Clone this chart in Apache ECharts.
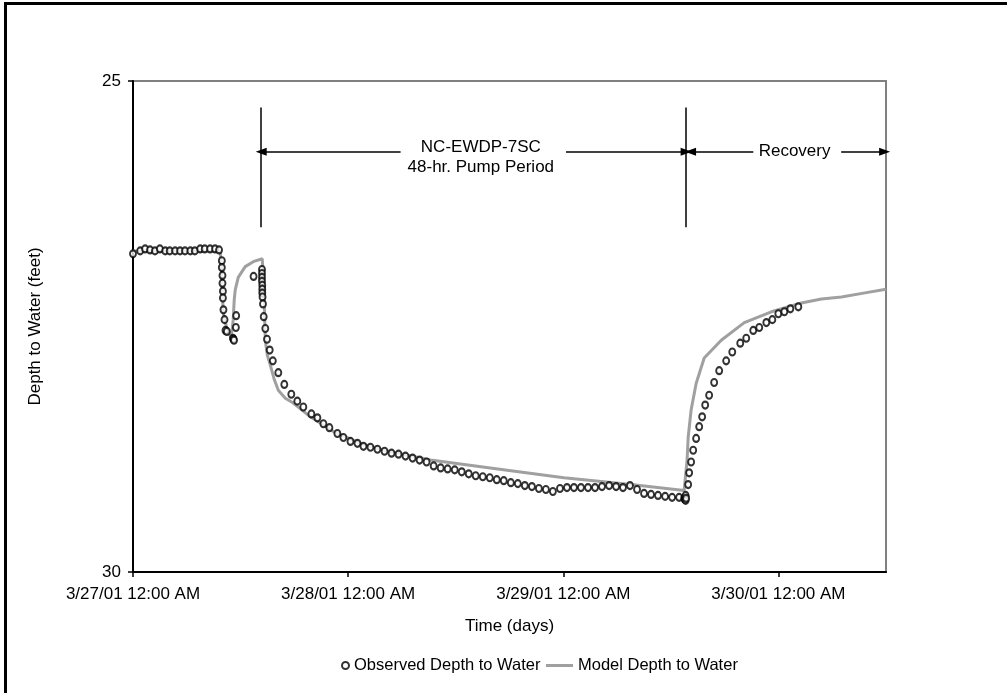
<!DOCTYPE html>
<html>
<head>
<meta charset="utf-8">
<title>NC-EWDP-7SC Depth to Water</title>
<script src="https://cdn.jsdelivr.net/npm/echarts@6/dist/echarts.min.js"></script>
<style>
  html, body { margin: 0; padding: 0; background: #fff; }
  #chart { width: 1007px; height: 693px; }
</style>
</head>
<body>
<div id="chart"></div>
<script>
// Time is measured in hours since 3/27/01 12:00 AM.
const xTickHours = [0, 24, 48, 72];
const xTickLabels = ['3/27/01 12:00 AM', '3/28/01 12:00 AM', '3/29/01 12:00 AM', '3/30/01 12:00 AM'];
const yTicks = [25, 30];

// Observed depth to water (feet)
const observedHours = [
  0, 0.8, 1.35, 1.9, 2.45, 3.0, 3.6, 4.1, 4.7, 5.25, 5.8, 6.4, 6.9, 7.5, 8.0, 8.6, 9.15, 9.6,
  9.91, 9.91, 9.98, 9.98, 10.03, 10.03, 10.09, 10.21, 10.32, 10.47, 11.15, 11.21, 11.27, 11.48, 11.51,
  13.45, 14.39, 14.39, 14.39, 14.39, 14.42, 14.42, 14.42, 14.45, 14.50, 14.58, 14.76, 14.95, 15.25, 15.60,
  16.21, 16.88, 17.66, 18.33, 19.0, 19.9, 20.57, 21.24, 21.91, 22.80, 23.47, 24.26, 25.04, 25.71, 26.49, 27.27,
  28.06, 28.84, 29.62, 30.40, 31.19, 31.97, 32.75, 33.54, 34.32, 35.10, 35.89, 36.67, 37.45, 38.23, 39.02,
  39.80, 40.58, 41.36, 42.15, 42.93, 43.71, 44.50, 45.28, 46.06, 46.84, 47.63, 48.41, 49.19, 49.97, 50.76,
  51.54, 52.32, 53.11, 53.89, 54.66, 55.44, 56.23, 57.01, 57.79, 58.57, 59.36, 60.14, 60.92, 61.48, 61.55,
  61.60, 61.65, 61.65,
  61.70, 61.93, 62.04, 62.26, 62.49, 62.82, 63.16, 63.49, 63.83, 64.27, 64.83, 65.39, 66.17, 66.85, 67.74,
  68.41, 69.19, 69.86, 70.65, 71.32, 71.99, 72.66, 73.33, 74.22
];
const observedDepth = [
  26.76, 26.73, 26.71, 26.72, 26.73, 26.71, 26.73, 26.73, 26.73, 26.73, 26.73, 26.73, 26.73, 26.71, 26.71, 26.71, 26.71, 26.72,
  26.83, 26.90, 26.98, 27.06, 27.14, 27.21, 27.33, 27.43, 27.54, 27.55, 27.62, 27.63, 27.64, 27.51, 27.39,
  26.99, 26.92, 26.96, 27.00, 27.04, 27.08, 27.12, 27.16, 27.20, 27.27, 27.40, 27.52, 27.63, 27.74, 27.85,
  27.97, 28.09, 28.19, 28.26, 28.32, 28.39, 28.43, 28.49, 28.53, 28.59, 28.63, 28.67, 28.69, 28.72, 28.73, 28.75,
  28.77, 28.79, 28.80, 28.82, 28.84, 28.86, 28.88, 28.92, 28.94, 28.95, 28.96, 28.98, 29.00, 29.02, 29.03,
  29.04, 29.06, 29.07, 29.09, 29.10, 29.12, 29.13, 29.15, 29.16, 29.18, 29.15, 29.14, 29.14, 29.14, 29.14,
  29.14, 29.13, 29.12, 29.13, 29.14, 29.12, 29.16, 29.20, 29.21, 29.22, 29.23, 29.24, 29.24, 29.25, 29.26,
  29.24, 29.22, 29.27,
  29.25, 29.11, 28.99, 28.88, 28.76, 28.64, 28.52, 28.42, 28.30, 28.20, 28.07, 27.95, 27.85, 27.76, 27.67,
  27.62, 27.54, 27.51, 27.46, 27.43, 27.37, 27.35, 27.32, 27.30
];

// Simulated depth to water (feet)
const modelHours = [
  0, 9.72, 9.84, 9.95, 10.06, 10.51, 10.95, 11.18, 11.29, 11.40, 11.74, 12.52, 13.41, 14.42,
  14.53, 14.64, 14.76, 14.98, 15.31, 15.76, 16.21, 16.99, 17.88, 19.79, 22.36, 25.37, 27.95,
  33.20, 40.69, 48.07, 55.56, 61.48, 61.70, 61.81, 61.93, 62.26, 62.82, 63.72, 65.62, 68.19,
  71.21, 74.56, 76.80, 79.03, 81.49, 84
];
const modelDepth = [
  26.73, 26.73, 26.87, 27.08, 27.36, 27.54, 27.61, 27.43, 27.23, 27.13, 27.00, 26.89, 26.84, 26.81,
  26.98, 27.23, 27.64, 27.79, 27.89, 28.04, 28.15, 28.23, 28.28, 28.42, 28.57, 28.69, 28.76,
  28.86, 28.95, 29.04, 29.11, 29.17, 29.17, 28.86, 28.63, 28.35, 28.08, 27.82, 27.64, 27.46,
  27.35, 27.26, 27.22, 27.20, 27.16, 27.12
];

// Pumping test periods (hours)
const pumpStart = 14.3;
const pumpEnd = 61.7;
const recoveryEnd = 84;

const FONT = '"Liberation Sans", Arial, sans-serif';
const FS = 17;
const LEGEND_FS = 16.5;
const chart = echarts.init(document.getElementById('chart'), null, { renderer: 'canvas' });

// Bracket geometry in data units
const bracketTop = 25.27, bracketBottom = 26.49, arrowDepth = 25.72;

function seg(x1, y1, x2, y2, s1, s2) {
  return [
    { coord: [x1, y1], symbol: s1 || 'none' },
    { coord: [x2, y2], symbol: s2 || 'none' }
  ];
}

const option = {
  animation: false,
  backgroundColor: '#fff',
  textStyle: { fontFamily: FONT },
  grid: {
    left: 133, top: 81, right: 121, bottom: 121,
    show: true, borderColor: '#808080', borderWidth: 2, backgroundColor: 'transparent'
  },
  xAxis: {
    type: 'value',
    min: 0, max: recoveryEnd, interval: 24,
    name: 'Time (days)', nameLocation: 'middle', nameGap: 46,
    nameTextStyle: { fontSize: FS, color: '#000', fontFamily: FONT },
    axisLine: { show: true, onZero: false, lineStyle: { color: '#000', width: 2 } },
    axisTick: { show: true, length: 5, lineStyle: { color: '#000', width: 1.5 }, customValues: xTickHours },
    axisLabel: {
      customValues: xTickHours, margin: 14, fontSize: FS, color: '#000', fontFamily: FONT,
      formatter: v => { const i = xTickHours.indexOf(v); return i >= 0 ? xTickLabels[i] : ''; }
    },
    splitLine: { show: false }
  },
  yAxis: {
    type: 'value', inverse: true,
    min: 25, max: 30, interval: 5,
    name: 'Depth to Water (feet)', nameLocation: 'middle', nameGap: 89, nameRotate: 90,
    nameTextStyle: { fontSize: FS, color: '#000', fontFamily: FONT },
    axisLine: { show: true, onZero: false, lineStyle: { color: '#000', width: 2 } },
    axisTick: { show: true, length: 5, lineStyle: { color: '#000', width: 1.5 } },
    axisLabel: { margin: 12, fontSize: FS, color: '#000', fontFamily: FONT,
      formatter: v => (yTicks.indexOf(v) >= 0 ? String(v) : '') },
    splitLine: { show: false }
  },
  legend: [
    {
      data: [{ name: 'Observed Depth to Water', icon: 'emptyCircle' }],
      left: 341, top: 657, padding: 0, itemWidth: 7, itemHeight: 8,
      selectedMode: false,
      textStyle: { fontSize: LEGEND_FS, color: '#000', fontFamily: FONT }
    },
    {
      data: [{ name: 'Model Depth to Water', icon: 'rect', itemStyle: { color: '#a0a0a0' } }],
      left: 546, top: 657, padding: 0, itemWidth: 27, itemHeight: 3,
      selectedMode: false,
      textStyle: { fontSize: LEGEND_FS, color: '#000', fontFamily: FONT }
    }
  ],
  series: [
    {
      name: 'Model Depth to Water',
      type: 'line',
      data: modelHours.map((h, i) => [h, modelDepth[i]]),
      symbol: 'none',
      lineStyle: { color: '#a0a0a0', width: 3 },
      itemStyle: { color: '#a0a0a0' },
      z: 2
    },
    {
      name: 'Observed Depth to Water',
      type: 'scatter',
      data: observedHours.map((h, i) => [h, observedDepth[i]]),
      symbol: 'emptyCircle',
      symbolSize: [6, 7],
      itemStyle: { color: '#000', borderColor: '#000', borderWidth: 1.8 },
      z: 3
    },
    {
      name: 'periods',
      type: 'line',
      data: [],
      silent: true,
      markLine: {
        silent: true,
        animation: false,
        symbolSize: [8, 11],
        label: { show: false },
        lineStyle: { color: '#000', width: 1.5, type: 'solid' },
        emphasis: { disabled: true },
        data: [
          seg(pumpStart, bracketTop, pumpStart, bracketBottom),
          seg(pumpEnd, bracketTop, pumpEnd, bracketBottom),
          seg(pumpStart, arrowDepth, 29.85, arrowDepth, 'triangle', 'none'),
          seg(48.3, arrowDepth, pumpEnd, arrowDepth, 'none', 'triangle'),
          seg(62.2, arrowDepth, 69.2, arrowDepth, 'triangle', 'none'),
          seg(79.0, arrowDepth, recoveryEnd - 0.15, arrowDepth, 'none', 'triangle')
        ]
      }
    }
  ]
};

chart.setOption(option);

// Period captions placed through the grid's own coordinate system
function px(h, d) { return chart.convertToPixel({ gridIndex: 0 }, [h, d]); }
const pumpText1 = px(38.8, 25.68);
const pumpText2 = px(38.8, 25.88);
const recText = px(73.8, 25.72);
const txtStyle = { fill: '#000', font: FS + 'px ' + FONT, textAlign: 'center', textVerticalAlign: 'middle' };
chart.setOption({
  graphic: [
    { type: 'rect', silent: true, z: 100, shape: { x: 5.5, y: 3.5, width: 1100, height: 800 },
      style: { fill: 'none', stroke: '#000', lineWidth: 3 } },
    { type: 'text', silent: true, x: pumpText1[0], y: pumpText1[1], style: Object.assign({ text: 'NC-EWDP-7SC' }, txtStyle) },
    { type: 'text', silent: true, x: pumpText2[0], y: pumpText2[1], style: Object.assign({ text: '48-hr. Pump Period' }, txtStyle) },
    { type: 'text', silent: true, x: recText[0], y: recText[1], style: Object.assign({ text: 'Recovery' }, txtStyle) }
  ]
});
</script>
</body>
</html>
